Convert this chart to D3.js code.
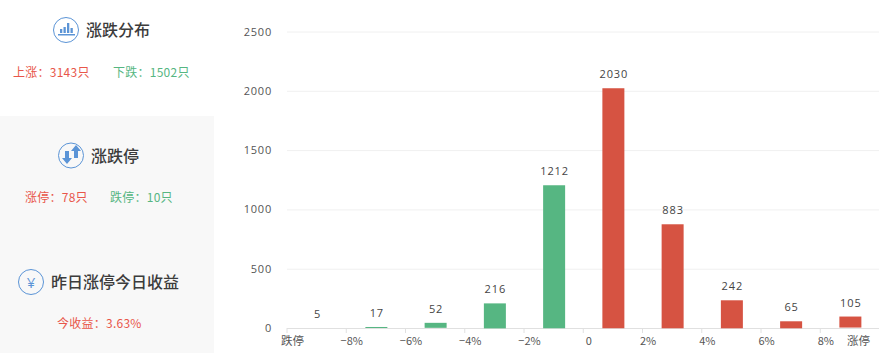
<!DOCTYPE html>
<html>
<head>
<meta charset="utf-8">
<script src="https://cdn.jsdelivr.net/npm/d3@7"></script>
<style>
html,body{margin:0;padding:0;background:#fff;overflow:hidden}
svg{display:block}
text{font-family:"Noto Sans CJK SC","Open Sans",sans-serif}
</style>
</head>
<body>
<script>
const tickLabels = ["跌停","−8%","−6%","−4%","−2%","0","2%","4%","6%","8%","涨停"]
const barValues = [5,17,52,216,1212,2030,883,242,65,105]
const barColors = ["#56b682","#56b682","#56b682","#56b682","#56b682","#d65342","#d65342","#d65342","#d65342","#d65342"]
const yTicks = [0,500,1000,1500,2000,2500]

const width = 879
const height = 353
const red = "#e8564a"
const green = "#56b682"
const blue = "#5b94d6"

const svg = d3.select("body").append("svg")
    .attr("width",width)
    .attr("height",height)
    .attr("viewBox",`0 0 ${width} ${height}`)

// left panel
svg.append("rect").attr("x",0).attr("y",116).attr("width",214).attr("height",237).attr("fill","#f8f8f8")

function title(x,y,txt){
    svg.append("text").attr("x",x).attr("y",y).attr("font-size",16).attr("font-weight",500)
        .attr("fill","#3c3c3c").text(txt)
}
function stat(x,y,txt,color){
    svg.append("text").attr("x",x).attr("y",y).attr("font-size",12).attr("fill",color)
        .style("letter-spacing",".25px").text(txt)
}
function ring(cx,cy){
    return svg.append("circle").attr("cx",cx).attr("cy",cy).attr("r",12.5)
        .attr("fill","none").attr("stroke",blue).attr("stroke-width",1)
}

ring(66,30)
const miniBars = [[60,4],[63.5,6],[67,10],[70.5,5]]
miniBars.forEach(d=>{
    svg.append("rect").attr("x",d[0]).attr("y",33-d[1]).attr("width",2.3).attr("height",d[1]).attr("fill",blue)
})
svg.append("rect").attr("x",58).attr("y",34).attr("width",17).attr("height",1.5).attr("fill",blue)
title(86,36,"涨跌分布")
stat(13,77,"上涨：3143只",red)
stat(113,77,"下跌：1502只",green)

ring(71,155.5)
svg.append("path").attr("fill",blue).attr("d","M65 151h4v7h3l-5 6l-5-6h3z")
svg.append("path").attr("fill",blue).attr("d","M74 158h4v-7h3l-5-6l-5 6h3z")
title(91,162,"涨跌停")
stat(25,202,"涨停：78只",red)
stat(110,202,"跌停：10只",green)

ring(31,282)
svg.append("text").attr("x",31).attr("y",288).attr("text-anchor","middle").attr("font-size",15)
    .attr("fill",blue).style("font-family","'Open Sans'").text("¥")
title(51,288,"昨日涨停今日收益")
stat(57,328,"今收益：3.63%",red)

// chart
const x = d3.scaleLinear().domain([0,barValues.length]).range([286.5,879])
const y = d3.scaleLinear().domain([0,2500]).range([328,31.5])

const yAxis = d3.axisLeft(y).tickValues(yTicks).tickFormat(d3.format("d")).tickSize(0).tickPadding(15)
const yG = svg.append("g").attr("transform","translate(287,0)").call(yAxis)
yG.select(".domain").remove()
yG.selectAll("text").attr("font-size",11).attr("fill","#555").style("letter-spacing",".8px").style("font-family","'Open Sans'")
yG.selectAll(".tick").filter(d=>d>0).append("line").attr("x2",592).attr("stroke","#f0f0f0")

const xAxis = d3.axisBottom(x).tickValues(d3.range(tickLabels.length))
    .tickFormat(i=>tickLabels[i]).tickSize(5).tickPadding(4).tickSizeOuter(0)
const xG = svg.append("g").attr("transform","translate(0,328)").call(xAxis)
xG.select(".domain").attr("stroke","#e0e0e0")
xG.selectAll("line").attr("stroke","#e0e0e0")
xG.selectAll("text").attr("font-size",d=>d===0||d===tickLabels.length-1?11.5:11).attr("fill","#555")
    .attr("dx",(d,i)=>i===tickLabels.length-1?-21:5.5)

// bars sit 1px under the top of the scale, the axis line covers their foot
const barW = 22
svg.selectAll(".bar").data(barValues).join("rect")
    .attr("class","bar")
    .attr("x",(d,i)=>(x(i)+x(i+1))/2-barW/2+1)
    .attr("y",d=>y(d)+1)
    .attr("width",barW)
    .attr("height",d=>Math.max(0,Math.round(y(0)-y(d)-1)))
    .attr("fill",(d,i)=>barColors[i])

svg.selectAll(".val").data(barValues).join("text")
    .attr("class","val")
    .attr("x",(d,i)=>(x(i)+x(i+1))/2+1.5)
    .attr("y",d=>y(d)-9)
    .attr("text-anchor","middle")
    .attr("font-size",11)
    .attr("fill","#444")
    .style("letter-spacing",".9px")
    .style("font-family","'Open Sans'")
    .text(d=>d)
</script>
</body>
</html>
